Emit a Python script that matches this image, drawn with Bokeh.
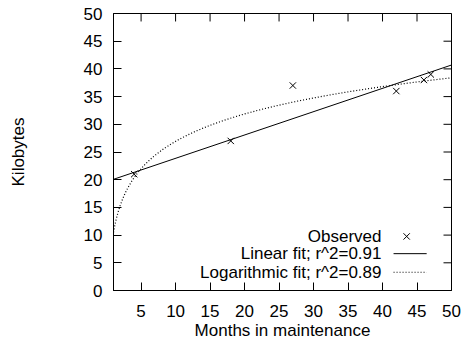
import numpy as np
from bokeh.plotting import figure
from bokeh.models import Range1d, FixedTicker, Slope
from bokeh.embed import file_html
from bokeh.resources import INLINE
from bokeh.core.properties import value

# ---- data ----
months = [4, 18, 27, 42, 46, 47]
kilobytes = [21, 27, 37, 36, 38, 39]

x_ticks = [5, 10, 15, 20, 25, 30, 35, 40, 45, 50]
y_ticks = [0, 5, 10, 15, 20, 25, 30, 35, 40, 45, 50]

# fitted models (coefficients)
lin_slope = 0.421
lin_intercept = 19.65
log_a = 10.5
log_b = 7.13

legend_labels = ["Observed", "Linear fit; r^2=0.91", "Logarithmic fit; r^2=0.89"]

# ---- styling / layout ----
FONT = value("Liberation Sans")
FS = "17px"
X0, X1, Y0, Y1 = 1, 50, 0, 50
W, H = 461, 342
BL, BR, BT, BB = 113, 10, 13, 51
TICK_PX = 8

p = figure(width=W, height=H, x_range=Range1d(X0, X1), y_range=Range1d(Y0, Y1),
           output_backend="svg", toolbar_location=None,
           min_border_left=BL, min_border_right=BR, min_border_top=BT, min_border_bottom=BB)
p.xgrid.visible = False
p.ygrid.visible = False
p.outline_line_color = "black"
p.outline_line_alpha = 1.0
p.outline_line_width = 1
p.background_fill_color = "white"
p.border_fill_color = "white"

def style_axis(ax, ticks):
    ax.ticker = FixedTicker(ticks=ticks)
    ax.minor_tick_line_color = None
    ax.major_tick_in = TICK_PX
    ax.major_tick_out = 0
    ax.major_tick_line_color = "black"
    ax.major_tick_line_width = 1
    ax.axis_line_color = "black"
    ax.major_label_text_font = "Liberation Sans"
    ax.major_label_text_color = "black"
    ax.major_label_text_font_size = FS
    ax.axis_label_text_font = "Liberation Sans"
    ax.axis_label_text_font_style = "normal"
    ax.axis_label_text_color = "black"
    ax.axis_label_text_font_size = FS

style_axis(p.xaxis[0], x_ticks)
style_axis(p.yaxis[0], y_ticks)
p.xaxis[0].axis_label = "Months in maintenance"
p.xaxis[0].major_label_standoff = 14
p.xaxis[0].axis_label_standoff = 1
p.yaxis[0].axis_label = "Kilobytes"
p.yaxis[0].major_label_standoff = 11
p.yaxis[0].axis_label_standoff = 53

# mirrored inward ticks on the top and right edges (gnuplot style)
dx = TICK_PX * (X1 - X0) / (W - BL - BR)
dy = TICK_PX * (Y1 - Y0) / (H - BT - BB)
p.segment(x0=x_ticks, y0=[Y1] * len(x_ticks), x1=x_ticks, y1=[Y1 - dy] * len(x_ticks),
          line_color="black", line_width=1)
p.segment(x0=[X1] * len(y_ticks), y0=y_ticks, x1=[X1 - dx] * len(y_ticks), y1=y_ticks,
          line_color="black", line_width=1)

# observed points
p.scatter(months, kilobytes, marker="x", size=9, line_color="black", line_width=1)

# linear fit
p.add_layout(Slope(gradient=lin_slope, y_intercept=lin_intercept,
                   line_color="black", line_width=1))

# logarithmic fit
xs = np.linspace(X0, X1, 400)
p.line(xs, log_a + log_b * np.log(xs), line_color="black", line_width=1.2,
       line_dash="1 2")

# legend (gnuplot style: right-justified text, key to the right)
leg_text_x = 39.85
leg_key_x0, leg_key_x1 = 41.6, 46.4
leg_rows = [9.76, 6.65, 3.29]
p.text(x=[leg_text_x] * 3, y=leg_rows, text=legend_labels, text_align="right",
       text_baseline="middle", text_font=FONT, text_font_size=FS, text_color="black")
p.scatter([(leg_key_x0 + leg_key_x1) / 2 - 0.5], [leg_rows[0]], marker="x", size=9,
          line_color="black", line_width=1)
p.segment(x0=[leg_key_x0], y0=[leg_rows[1]], x1=[leg_key_x1], y1=[leg_rows[1]],
          line_color="black", line_width=1)
p.segment(x0=[leg_key_x0], y0=[leg_rows[2]], x1=[leg_key_x1], y1=[leg_rows[2]],
          line_color="black", line_width=1.2, line_dash="1 2")

open("out.html", "w").write(file_html(p, INLINE))
